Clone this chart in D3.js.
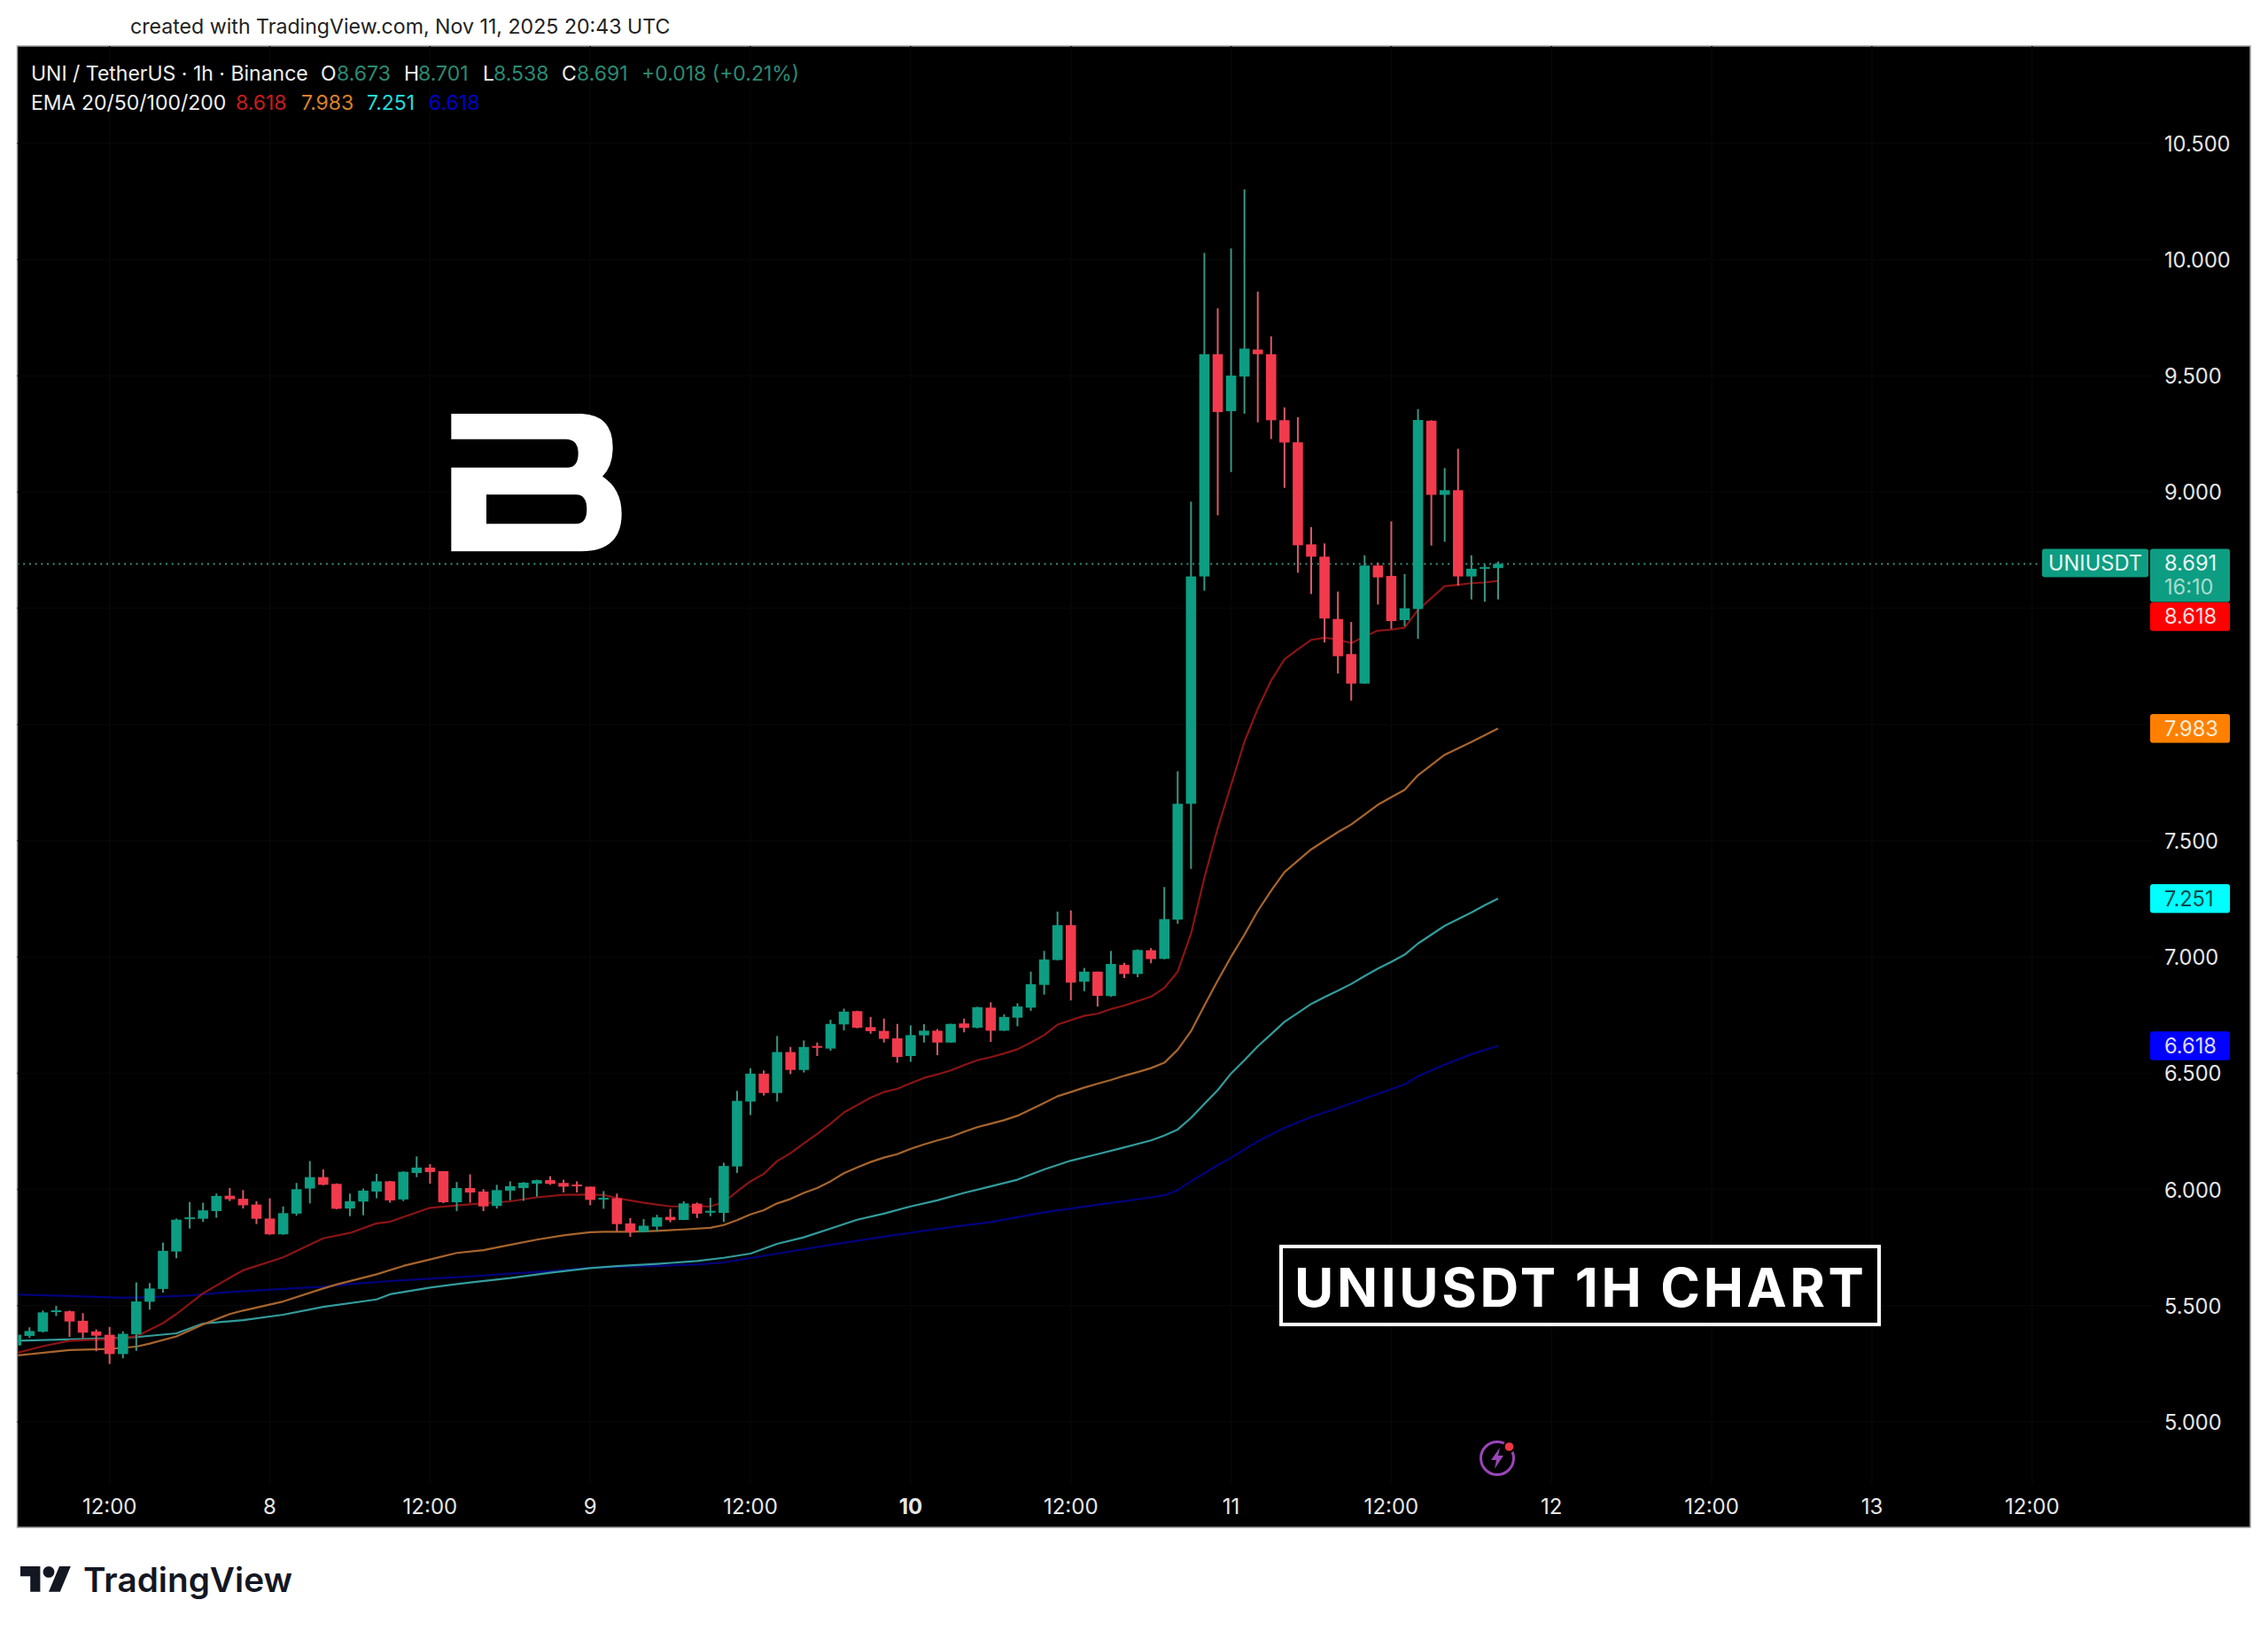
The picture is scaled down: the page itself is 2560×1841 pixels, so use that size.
<!DOCTYPE html>
<html><head><meta charset="utf-8">
<style>html,body{margin:0;padding:0;background:#fff}svg{display:block}text{font-family:Inter,"Liberation Sans",sans-serif}</style>
<script src="https://d3js.org/d3.v7.min.js"></script></head>
<body><div id="chart"></div>
<script>
// hours counted from Nov 7 12:00 UTC
const firstHour = -7;
const open = [5.329,5.370,5.388,5.473,5.476,5.435,5.389,5.375,5.292,5.377,5.517,5.572,5.733,5.873,5.874,5.907,5.973,5.960,5.935,5.875,5.807,5.896,6.004,6.053,6.024,5.918,5.948,5.991,6.035,5.957,6.071,6.094,6.079,5.945,6.006,5.991,5.929,5.995,6.006,6.025,6.040,6.028,6.021,6.012,5.958,5.962,5.854,5.817,5.840,5.882,5.869,5.939,5.901,5.899,6.099,6.378,6.498,6.415,6.591,6.514,6.617,6.606,6.710,6.767,6.698,6.682,6.650,6.574,6.663,6.683,6.632,6.714,6.696,6.782,6.683,6.739,6.782,6.880,6.987,7.137,6.894,6.937,6.832,6.966,6.927,7.029,6.992,7.161,7.659,8.637,9.593,9.348,9.497,9.613,9.593,9.309,9.214,8.775,8.722,8.454,8.303,8.176,8.684,8.639,8.449,8.497,9.307,8.988,9.008,8.637,8.671,8.673];
const high = [5.395,5.407,5.479,5.499,5.479,5.468,5.398,5.409,5.390,5.600,5.597,5.772,5.875,5.946,5.943,5.982,6.006,5.997,5.949,5.962,5.927,6.028,6.122,6.086,6.026,5.982,6.004,6.067,6.037,6.078,6.142,6.109,6.079,6.032,6.065,6.001,6.020,6.035,6.032,6.042,6.057,6.042,6.035,6.012,5.993,5.982,5.877,5.873,5.891,5.917,5.949,5.944,5.964,6.115,6.424,6.521,6.512,6.660,6.613,6.641,6.632,6.730,6.778,6.769,6.742,6.735,6.712,6.706,6.711,6.690,6.713,6.735,6.786,6.805,6.753,6.801,6.937,7.026,7.195,7.200,6.953,6.937,7.026,6.975,7.033,7.038,7.301,7.799,8.959,10.029,9.790,10.048,10.302,9.862,9.670,9.364,9.322,8.849,8.779,8.572,8.441,8.728,8.697,8.874,8.647,9.357,9.309,9.103,9.186,8.728,8.688,8.701];
const low = [5.305,5.362,5.385,5.455,5.366,5.360,5.304,5.250,5.273,5.306,5.483,5.556,5.704,5.832,5.860,5.878,5.950,5.918,5.851,5.805,5.805,5.887,5.940,6.018,5.915,5.885,5.889,5.962,5.943,5.950,6.053,6.025,5.941,5.907,5.943,5.907,5.918,5.953,5.951,5.969,6.020,5.987,5.987,5.932,5.917,5.819,5.796,5.815,5.819,5.859,5.868,5.877,5.885,5.860,6.071,6.320,6.404,6.378,6.496,6.503,6.574,6.597,6.684,6.693,6.670,6.632,6.545,6.549,6.632,6.578,6.631,6.676,6.693,6.635,6.682,6.702,6.768,6.838,6.985,6.813,6.853,6.787,6.829,6.909,6.913,6.973,6.990,7.143,7.379,8.576,8.900,9.086,9.337,9.300,9.228,9.018,8.653,8.561,8.353,8.219,8.103,8.175,8.516,8.411,8.423,8.369,8.770,8.786,8.597,8.538,8.528,8.538];
const close = [5.375,5.391,5.471,5.480,5.432,5.384,5.371,5.292,5.379,5.518,5.574,5.736,5.870,5.880,5.910,5.972,5.958,5.932,5.874,5.807,5.898,6.001,6.053,6.020,5.917,5.949,5.995,6.035,5.953,6.076,6.094,6.075,5.945,6.006,5.987,5.927,5.997,6.014,6.029,6.040,6.024,6.012,6.015,5.955,5.964,5.851,5.816,5.844,5.880,5.868,5.940,5.896,5.908,6.101,6.381,6.498,6.415,6.591,6.514,6.613,6.610,6.712,6.765,6.696,6.681,6.648,6.570,6.664,6.683,6.632,6.712,6.695,6.784,6.683,6.742,6.787,6.883,6.989,7.137,6.890,6.937,6.833,6.970,6.927,7.030,6.991,7.163,7.659,8.637,9.593,9.344,9.501,9.617,9.593,9.309,9.213,8.771,8.722,8.456,8.294,8.176,8.684,8.633,8.445,8.500,9.310,8.988,9.008,8.637,8.670,8.677,8.691];

const ema20Hours = [-7,-5,-3,0,2,4,5,7,9,10,13,16,18,20,21,24,27,30,32,34,36,37,38,40,42,45,46,47,48,49,50,51,52,53,54,55,56,57,58,59,60,61,62,63,64,65,66,67,68,69,70,71,72,73,74,75,76,77,78,79,80,81,82,83,84,85,86,87,88,89,90,91,92,93,94,95,96,97,98,99,100,101,102,103,104];
const ema20Values = [5.296,5.326,5.349,5.356,5.368,5.425,5.464,5.553,5.620,5.652,5.708,5.790,5.813,5.854,5.861,5.921,5.936,5.949,5.966,5.977,5.978,5.976,5.963,5.943,5.927,5.927,5.946,5.991,6.035,6.067,6.122,6.156,6.198,6.239,6.283,6.331,6.363,6.395,6.419,6.433,6.457,6.480,6.495,6.512,6.535,6.556,6.569,6.585,6.603,6.632,6.664,6.709,6.728,6.747,6.756,6.776,6.791,6.810,6.829,6.867,6.937,7.100,7.340,7.554,7.740,7.926,8.068,8.189,8.281,8.324,8.364,8.373,8.366,8.350,8.379,8.404,8.408,8.417,8.493,8.544,8.595,8.601,8.608,8.611,8.618];

const ema50Hours = [-7,-3,0,2,3,5,7,9,10,13,16,17,20,22,24,26,28,30,32,34,36,37,39,41,43,45,46,47,48,49,50,51,52,53,54,55,56,57,58,59,60,61,62,63,64,65,66,67,68,69,70,71,72,73,74,75,76,77,78,79,80,81,82,83,84,85,86,87,88,90,92,93,95,97,98,100,102,104];
const ema50Values = [5.286,5.309,5.314,5.324,5.337,5.368,5.419,5.464,5.479,5.518,5.574,5.591,5.635,5.671,5.699,5.727,5.739,5.762,5.784,5.803,5.816,5.818,5.818,5.822,5.828,5.835,5.847,5.868,5.893,5.911,5.940,5.959,5.985,6.006,6.035,6.070,6.095,6.118,6.137,6.152,6.175,6.194,6.211,6.226,6.248,6.268,6.283,6.298,6.317,6.344,6.372,6.401,6.419,6.438,6.455,6.471,6.489,6.505,6.522,6.545,6.601,6.681,6.791,6.899,7.001,7.096,7.198,7.285,7.365,7.463,7.537,7.570,7.655,7.719,7.782,7.870,7.925,7.983];

const ema100Hours = [-7,0,2,5,7,10,13,16,20,21,24,27,30,33,36,38,41,44,46,48,50,52,54,56,58,60,62,64,66,68,70,72,74,76,78,79,80,81,82,83,84,85,86,87,88,89,90,91,92,93,94,95,96,97,98,99,100,101,102,103,104];
const ema100Values = [5.349,5.360,5.365,5.381,5.423,5.438,5.461,5.495,5.527,5.549,5.578,5.600,5.619,5.642,5.662,5.670,5.680,5.692,5.706,5.724,5.766,5.794,5.832,5.870,5.896,5.927,5.953,5.985,6.013,6.042,6.086,6.124,6.152,6.181,6.211,6.232,6.258,6.308,6.368,6.427,6.499,6.556,6.616,6.668,6.721,6.759,6.798,6.827,6.855,6.884,6.918,6.950,6.979,7.010,7.058,7.096,7.134,7.163,7.191,7.223,7.251];

const ema200Hours = [-7,-3,1,3,6,9,13,16,18,21,24,27,30,33,36,38,41,44,46,50,54,58,62,66,70,74,78,79,80,81,82,83,84,86,88,90,92,94,97,98,100,102,104];
const ema200Values = [5.548,5.542,5.534,5.537,5.544,5.559,5.572,5.582,5.593,5.606,5.616,5.626,5.638,5.648,5.663,5.667,5.671,5.677,5.686,5.724,5.762,5.797,5.830,5.860,5.902,5.934,5.966,5.975,5.997,6.035,6.070,6.105,6.137,6.207,6.265,6.312,6.350,6.391,6.452,6.487,6.537,6.582,6.618];

const priceTicks = [5,5.5,6,6.5,7,7.5,9,9.5,10,10.5];
const priceGrid = [5,5.5,6,6.5,7,7.5,8,8.5,9,9.5,10,10.5];
const timeHours = [0,12,24,36,48,60,72,84,96,108,120,132,144];
const timeLabels = ["12:00","8","12:00","9","12:00","10","12:00","11","12:00","12","12:00","13","12:00"];
const lastPrice = 8.691;
const emaLabels = ["8.618","7.983","7.251","6.618"];
const emaNumbers = [8.618,7.983,7.251,6.618];
const emaColors = ["#8c1414","#a8652c","#339c9c","#00007e"];
const emaTagColors = ["#ff0000","#ff8000","#00ffff","#0000ff"];
const emaTagText = ["#f4dcdc","#fdebd6","#0a4a4a","#dcdcff"];
const emaLegendColors = ["#c81c1c","#dc8128","#24dcdc","#0000c8"];
const upColor = "#0d9d82", downColor = "#f23a4d";
const upWick = "#3d9583", downWick = "#d95a68";

const W=2560,H=1841;
const pane={l:19.5,t:52,r:2540,b:1724};
const axisFont=23.6, labelX=2443;
const x=d3.scaleLinear().domain([0,96]).range([123.7,123.7+15.07*96]);
const y=d3.scaleLinear().domain([5,10.5]).range([1605,161.8]);
const svg=d3.select("#chart").append("svg").attr("width",W).attr("height",H).attr("viewBox",`0 0 ${W} ${H}`);
svg.append("rect").attr("width",W).attr("height",H).attr("fill","#fff");
svg.append("rect").attr("x",pane.l).attr("y",pane.t).attr("width",pane.r-pane.l).attr("height",pane.b-pane.t).attr("fill","#000").attr("stroke","#9a9a9a").attr("stroke-width",1.5);
svg.append("defs").append("clipPath").attr("id","pane").append("rect").attr("x",pane.l+1).attr("y",pane.t+1).attr("width",pane.r-pane.l-2).attr("height",pane.b-pane.t-2);

svg.append("text").attr("x",147).attr("y",38).attr("font-size",23.15).attr("fill","#222").text("created with TradingView.com, Nov 11, 2025 20:43 UTC");

// grid
const grid=svg.append("g").attr("stroke","#070707").attr("stroke-width",1.5);
grid.selectAll("line.h").data(priceGrid).join("line").attr("class","h").attr("x1",pane.l).attr("x2",2430).attr("y1",d=>y(d)).attr("y2",d=>y(d));
grid.selectAll("line.v").data(timeHours).join("line").attr("class","v").attr("x1",d=>x(d)).attr("x2",d=>x(d)).attr("y1",pane.t).attr("y2",1675);

// logo B
svg.append("path").attr("transform","translate(460,430) scale(0.33333)").attr("fill","#fff").attr("fill-rule","evenodd")
 .attr("d","M148,111 L590,111 Q695,115 695,225 Q695,290 660,323 Q725,365 725,450 Q725,575 590,577 L148,577 L148,293 L545,293 Q578,290 578,245 Q578,197 535,197 L148,197 Z M267,385 L267,484 L570,484 Q607,484 607,435 Q607,385 570,385 Z");

const plot=svg.append("g").attr("clip-path","url(#pane)");
// last-price dotted line
plot.append("line").attr("x1",pane.l).attr("x2",2304).attr("y1",y(lastPrice)).attr("y2",y(lastPrice)).attr("stroke","#3f8f7f").attr("stroke-width",2).attr("stroke-dasharray","2 4.7");

// EMA lines
const lineGen=d3.line().x(d=>x(d[0])).y(d=>y(d[1]));
[[ema200Hours,ema200Values],[ema100Hours,ema100Values],[ema50Hours,ema50Values],[ema20Hours,ema20Values]].forEach((s,i)=>{
  plot.append("path").attr("fill","none").attr("stroke",emaColors[3-i]).attr("stroke-width",2.2).attr("stroke-linejoin","round")
    .attr("d",lineGen(s[0].map((h,k)=>[h,s[1][k]])));
});

// candles
const candles=open.map((o,i)=>({h:firstHour+i,o,hi:high[i],lo:low[i],c:close[i]}));
const bw=11.6;
const cg=plot.selectAll("g.c").data(candles).join("g").attr("class","c");
cg.append("line").attr("x1",d=>x(d.h)).attr("x2",d=>x(d.h)).attr("y1",d=>y(d.hi)).attr("y2",d=>y(d.lo))
  .attr("stroke",d=>d.c>=d.o?upWick:downWick).attr("stroke-width",2);
cg.append("rect").attr("x",d=>x(d.h)-bw/2).attr("width",bw)
  .attr("y",d=>y(Math.max(d.o,d.c))).attr("height",d=>Math.max(2,Math.abs(y(d.o)-y(d.c))))
  .attr("fill",d=>d.c>=d.o?upColor:downColor);

// time axis
const xAxis=d3.axisBottom(x).tickValues(timeHours).tickSize(0).tickFormat((d,i)=>timeLabels[i]);
const gx=svg.append("g").attr("transform","translate(-0.5,1700)").call(xAxis);
gx.select(".domain").remove();
gx.selectAll("text").attr("y",0).attr("dy","0.36em").attr("font-size",24).attr("fill","#e6e6e6").style("font-family","Inter")
  .attr("font-weight",(d,i)=>timeLabels[i]==="10"?700:400);

// price axis
const yAxis=d3.axisRight(y).tickValues(priceTicks).tickSize(0).tickFormat(d3.format(".3f"));
const gy=svg.append("g").attr("transform",`translate(${labelX},0)`).call(yAxis);
gy.select(".domain").remove();
gy.selectAll("text").attr("x",0).attr("dy","0.36em").attr("text-anchor","start").attr("font-size",axisFont).attr("fill","#e6e6e6").style("font-family","Inter");

// tags
const tagX=2427,tagW=90,tagH=32.5;
const tagCentres=[696,y(emaNumbers[1]),y(emaNumbers[2]),y(emaNumbers[3])];
emaLabels.forEach((t,i)=>{
  svg.append("rect").attr("x",tagX).attr("y",tagCentres[i]-tagH/2).attr("width",tagW).attr("height",tagH).attr("rx",3).attr("fill",emaTagColors[i]);
  svg.append("text").attr("x",labelX).attr("y",tagCentres[i]).attr("dy","0.36em").attr("font-size",axisFont).attr("fill",emaTagText[i]).text(t);
});
svg.append("rect").attr("x",tagX).attr("y",619.5).attr("width",tagW).attr("height",60).attr("rx",3).attr("fill",upColor);
svg.append("text").attr("x",labelX).attr("y",635.5).attr("dy","0.36em").attr("font-size",axisFont).attr("fill","#eaf6f3").text(d3.format(".3f")(lastPrice));
svg.append("text").attr("x",labelX).attr("y",663).attr("dy","0.36em").attr("font-size",axisFont).attr("fill","#a8dcd0").text("16:10");
svg.append("rect").attr("x",2305).attr("y",619.5).attr("width",120).attr("height",32).attr("rx",3).attr("fill",upColor);
svg.append("text").attr("x",2365).attr("y",635.5).attr("dy","0.36em").attr("text-anchor","middle").attr("font-size",axisFont).attr("fill","#eaf6f3").text("UNIUSDT");

// legend
const legGreen="#2c8a72";
const leg1=svg.append("text").attr("x",35).attr("y",91).attr("font-size",23).attr("fill","#f0f0f0");
const legendParts=[["UNI / TetherUS · 1h · Binance",35,"#f0f0f0"],["O",362,"#f0f0f0"],["8.673",380,legGreen],["H",456,"#f0f0f0"],["8.701",472,legGreen],["L",545,"#f0f0f0"],["8.538",557,legGreen],["C",634,"#f0f0f0"],["8.691",651,legGreen],["+0.018 (+0.21%)",724,legGreen]];
legendParts.forEach(p=>leg1.append("tspan").attr("x",p[1]).attr("fill",p[2]).text(p[0]));
const leg2=svg.append("text").attr("x",35).attr("y",124).attr("font-size",23).attr("fill","#f0f0f0");
leg2.append("tspan").attr("x",35).text("EMA 20/50/100/200");
[266,340,414,484].forEach((lx,i)=>leg2.append("tspan").attr("x",lx).attr("fill",emaLegendColors[i]).text(emaLabels[i]));

// title box
svg.append("rect").attr("x",1446).attr("y",1407).attr("width",675).attr("height",88).attr("fill","#000").attr("stroke","#fff").attr("stroke-width",4);
svg.append("text").attr("x",1461).attr("y",1475).attr("font-size",60.5).attr("font-weight",700).attr("fill","#fff").attr("textLength",643).attr("lengthAdjust","spacing").text("UNIUSDT 1H CHART");

// lightning icon
const ic=svg.append("g").attr("transform","translate(1690,1646)");
ic.append("circle").attr("r",18.5).attr("fill","none").attr("stroke","#9a45b8").attr("stroke-width",3);
ic.append("path").attr("d","M3,-12 L-7,2 L-1,2 L-3,12 L7,-3 L1,-3 Z").attr("fill","#9a45b8");
ic.append("circle").attr("cx",13.5).attr("cy",-13).attr("r",7).attr("fill","#000");
ic.append("circle").attr("cx",13.5).attr("cy",-13).attr("r",4.8).attr("fill","#f23645");

// TradingView logo
const tv=svg.append("g").attr("transform","translate(23,1761.6) scale(1.6)").attr("fill","#131722");
tv.append("path").attr("d","M14 22H7V11H0V4h14v18zM28 22h-8l7.5-18h8L28 22z");
tv.append("circle").attr("cx",20).attr("cy",8).attr("r",4);
svg.append("text").attr("x",94).attr("y",1797).attr("font-size",38.5).attr("font-weight",600).attr("fill","#131722").attr("textLength",236).attr("lengthAdjust","spacingAndGlyphs").text("TradingView");
</script></body></html>
